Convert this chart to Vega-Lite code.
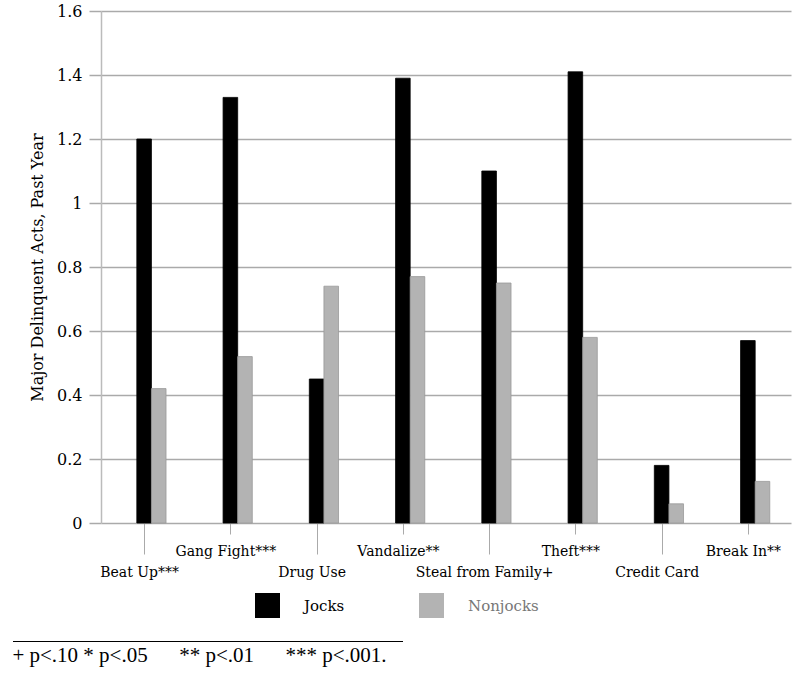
{
  "$schema": "https://vega.github.io/schema/vega-lite/v6.json",
  "padding": {"left": 12, "top": 3, "right": 5, "bottom": 5},
  "background": "white",
  "config": {"view": {"stroke": null}},
  "spacing": 22,
  "resolve": {"legend": {"color": "independent", "stroke": "independent"}},
  "title": {"text": "+ p<.10 * p<.05\u00a0\u00a0\u00a0\u00a0\u00a0 ** p<.01\u00a0\u00a0\u00a0\u00a0\u00a0 *** p<.001.", "orient": "bottom", "anchor": "start", "frame": "bounds", "font": "Liberation Serif", "fontSize": 21, "fontWeight": "normal", "color": "#000", "offset": 3},
  "datasets": {
    "bars": [
      {"category": "Beat Up***", "group": "Jocks", "value": 1.20},
      {"category": "Beat Up***", "group": "Nonjocks", "value": 0.42},
      {"category": "Gang Fight***", "group": "Jocks", "value": 1.33},
      {"category": "Gang Fight***", "group": "Nonjocks", "value": 0.52},
      {"category": "Drug Use", "group": "Jocks", "value": 0.45},
      {"category": "Drug Use", "group": "Nonjocks", "value": 0.74},
      {"category": "Vandalize**", "group": "Jocks", "value": 1.39},
      {"category": "Vandalize**", "group": "Nonjocks", "value": 0.77},
      {"category": "Steal from Family+", "group": "Jocks", "value": 1.10},
      {"category": "Steal from Family+", "group": "Nonjocks", "value": 0.75},
      {"category": "Theft***", "group": "Jocks", "value": 1.41},
      {"category": "Theft***", "group": "Nonjocks", "value": 0.58},
      {"category": "Credit Card", "group": "Jocks", "value": 0.18},
      {"category": "Credit Card", "group": "Nonjocks", "value": 0.06},
      {"category": "Break In**", "group": "Jocks", "value": 0.57},
      {"category": "Break In**", "group": "Nonjocks", "value": 0.13}
    ]
  },
  "vconcat": [
    {
      "width": 690,
      "height": 512,
      "data": {"name": "bars"},
      "mark": {"type": "bar", "strokeWidth": 0.8},
      "encoding": {
        "x": {
          "field": "category", "type": "nominal", "sort": null,
          "scale": {"paddingInner": 0.6614, "paddingOuter": 0.3307, "align": 0.628},
          "axis": {
            "title": null, "labelAngle": 0, "domain": false,
            "labelFont": "DejaVu Serif", "labelFontSize": 14, "labelColor": "#000",
            "labelBaseline": "top", "labelOffset": -5, "tickOffset": -7.3,
            "tickColor": "#aaa", "tickWidth": 1,
            "tickSize": {"condition": {"test": "indexof(['Gang Fight***','Vandalize**','Theft***','Break In**'], datum.value) >= 0", "value": 11}, "value": 31},
            "labelPadding": {"condition": {"test": "indexof(['Gang Fight***','Vandalize**','Theft***','Break In**'], datum.value) >= 0", "value": 10}, "value": 11},
            "labelOverlap": false
          }
        },
        "xOffset": {"field": "group", "type": "nominal", "scale": {"paddingInner": 0, "paddingOuter": 0}},
        "y": {
          "field": "value", "type": "quantitative",
          "scale": {"domain": [0, 1.6], "nice": false},
          "axis": {
            "title": "Major Delinquent Acts, Past Year", "titleFont": "DejaVu Serif", "titleFontSize": 16, "titleFontWeight": "normal", "titleColor": "#000", "titlePadding": 11,
            "values": [0, 0.2, 0.4, 0.6, 0.8, 1, 1.2, 1.4, 1.6], "format": ".1~f",
            "labelFont": "DejaVu Serif", "labelFontSize": 16, "labelColor": "#000", "labelPadding": 7,
            "tickSize": 12, "tickColor": "#aaa", "tickWidth": 1.5,
            "grid": true, "gridColor": "#aaa", "gridWidth": 1.5,
            "domain": true, "domainColor": "#bbb", "domainWidth": 1.5
          }
        },
        "color": {
          "field": "group", "type": "nominal",
          "scale": {"domain": ["Jocks", "Nonjocks"], "range": ["#000000", "#b3b3b3"]},
          "legend": {
            "title": null, "orient": "none", "legendX": 154, "legendY": 582, "direction": "horizontal", "padding": 0,
            "symbolType": "square", "symbolSize": 625, "symbolStrokeWidth": 0,
            "labelFont": "DejaVu Serif", "labelFontSize": 15, "labelOffset": 24,
            "columnPadding": 74,
            "encode": {"labels": {"update": {"fill": {"signal": "datum.value === 'Nonjocks' ? '#777' : '#000'"}}}}
          }
        },
        "stroke": {
          "field": "group", "type": "nominal",
          "scale": {"domain": ["Jocks", "Nonjocks"], "range": ["#000000", "#999999"]},
          "legend": null
        }
      }
    },
    {
      "width": 390,
      "height": 1,
      "data": {"values": [{"a": 0, "b": 1}]},
      "mark": {"type": "rule", "color": "#000", "strokeWidth": 1.2, "xOffset": -88, "x2Offset": -88},
      "encoding": {
        "x": {"field": "a", "type": "quantitative", "scale": {"domain": [0, 1]}, "axis": null},
        "x2": {"field": "b"}
      }
    }
  ]
}
